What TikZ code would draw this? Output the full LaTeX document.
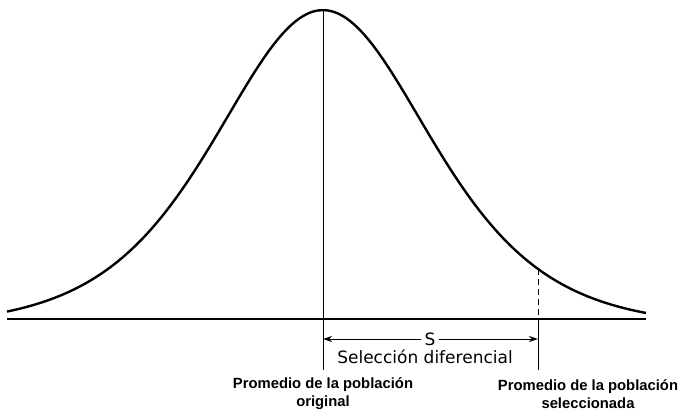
\documentclass[tikz,border=0pt]{standalone}
\usepackage{fontspec}
\setmainfont{Liberation Sans}
\newfontfamily\letterfont{DejaVu Sans}
\usetikzlibrary{arrows.meta}
\begin{document}
\begin{tikzpicture}[line cap=butt,line join=miter,>={Stealth[length=9pt,width=6pt]},x=1pt,y=-1pt]
	\tikzset{declare function={mu=323;s=72;base=319;h=309;c=0.025;},
		smooth,samples=200,
		rotulo/.style={font=\letterfont\fontsize{17}{20}\selectfont,inner sep=0pt},
		leyenda/.style={font=\bfseries\fontsize{14.8}{18}\selectfont,align=center,inner sep=0pt}}
	\useasboundingbox (0,0) rectangle (681,416);
	\def\f(#1){base-h*(1/cosh(((#1)-mu)/(2*s))^2-c)/(1-c)} % curva campana
	\coordinate (izq) at (7,319);
	\coordinate (der) at (646,319);
	\coordinate (cima) at (mu,{\f(mu)});
	\coordinate (mo) at (323,370);
	\coordinate (ds) at (538,{\f(538)});
	\coordinate (es) at (538,319);
	\coordinate (ms) at (538,370);
	\draw[line width=1.8pt] (izq)--(der);
	\draw[line width=2.4pt] plot[domain=7:646] (\x,{\f(\x)});
	\draw[line width=0.9pt] (cima)--(mo);
	\draw[line width=0.9pt,dash pattern=on 6pt off 4pt] (ds)--(es);
	\draw[line width=0.9pt] (es)--(ms);
	\node[rotulo] (s) at (430,339) {S};
	\draw[->,line width=0.9pt] ([xshift=-3pt]s.west)--(s.west -| mo);
	\draw[->,line width=0.9pt] ([xshift=3pt]s.east)--(s.east -| ms);
	\node[rotulo] (sel) at (425,357) {Selección diferencial};
	\node[leyenda] (orig) at (323,394) {Promedio de la población\\original};
	\node[leyenda] (selc) at (588,394) {Promedio de la población\\seleccionada};
\end{tikzpicture}
\end{document}
